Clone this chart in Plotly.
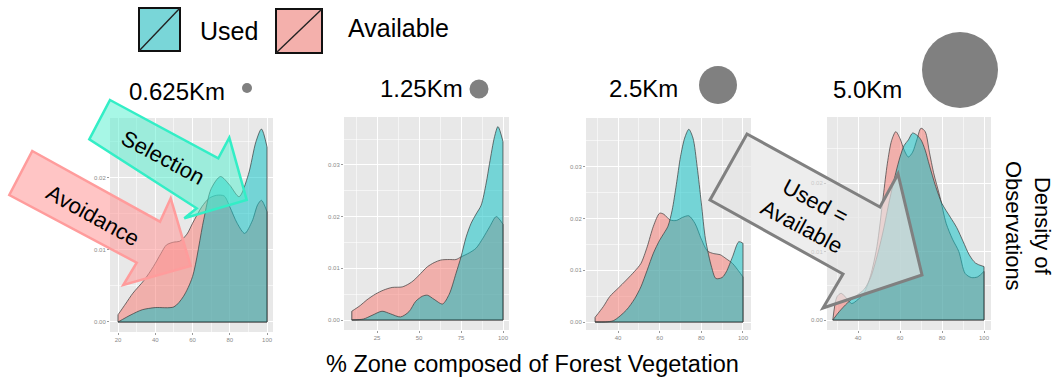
import plotly.graph_objects as go

W, H = 1056, 380

# ---------------- data ----------------
scale_labels = ["0.625Km", "1.25Km", "2.5Km", "5.0Km"]

x_used_0625 = [20, 27, 33, 40, 50, 55, 60, 66, 70, 75, 80, 85, 90, 94, 97, 100]
y_used_0625 = [0.0000, 0.0010, 0.0017, 0.0020, 0.0021, 0.0035, 0.0063, 0.0142, 0.0185,
               0.0202, 0.0190, 0.0174, 0.0205, 0.0250, 0.0268, 0.0243]
x_avail_0625 = [20, 24, 28, 34, 39, 43, 46, 50, 53, 57, 60, 65, 69, 73, 77, 80, 84, 88, 92, 95, 97, 100]
y_avail_0625 = [0.0010, 0.0025, 0.0040, 0.0058, 0.0077, 0.0095, 0.0107, 0.0111, 0.0112, 0.0122,
                0.0137, 0.0160, 0.0172, 0.0176, 0.0175, 0.0160, 0.0137, 0.0123, 0.0140, 0.0163,
                0.0169, 0.0153]

x_used_125 = [10, 17, 22, 28, 33, 39, 44, 48, 52, 55, 59, 64, 68, 72, 75, 78, 81, 84, 87,
              90, 92, 95, 97, 100]
y_used_125 = [0.0000, 0.0002, 0.0009, 0.0017, 0.0012, 0.0006, 0.0016, 0.0036, 0.0046, 0.0048,
              0.0040, 0.0031, 0.0050, 0.0090, 0.0122, 0.0160, 0.0187, 0.0205, 0.0222, 0.0265,
              0.0303, 0.0355, 0.0374, 0.0345]
x_avail_125 = [10, 15, 19, 24, 29, 34, 40, 44, 47, 51, 55, 59, 63, 68, 72, 75, 80, 84, 88, 92, 96, 100]
y_avail_125 = [0.0017, 0.0028, 0.0039, 0.0050, 0.0058, 0.0063, 0.0064, 0.0070, 0.0077, 0.0090,
               0.0103, 0.0111, 0.0116, 0.0117, 0.0117, 0.0122, 0.0130, 0.0139, 0.0158, 0.0180,
               0.0200, 0.0185]

x_used_25 = [29, 34, 38, 44, 48, 51, 54, 57, 60, 62, 64, 66, 68, 70, 72, 74, 76, 78, 80, 82,
             85, 87, 90, 92, 95, 98, 100]
y_used_25 = [0.0000, 0.0000, 0.0003, 0.0023, 0.0045, 0.0068, 0.0100, 0.0133, 0.0158, 0.0171,
             0.0185, 0.0216, 0.0265, 0.0319, 0.0355, 0.0372, 0.0355, 0.0300, 0.0230, 0.0160,
             0.0105, 0.0084, 0.0086, 0.0097, 0.0126, 0.0155, 0.0152]
x_avail_25 = [29, 33, 36, 40, 44, 48, 51, 54, 57, 60, 62, 65, 68, 71, 74, 77, 80, 83, 86, 89,
              92, 95, 98, 100]
y_avail_25 = [0.0009, 0.0030, 0.0049, 0.0065, 0.0081, 0.0098, 0.0113, 0.0145, 0.0185, 0.0210,
              0.0208, 0.0197, 0.0196, 0.0202, 0.0205, 0.0190, 0.0160, 0.0137, 0.0132, 0.0130,
              0.0122, 0.0113, 0.0098, 0.0087]

x_used_50 = [28, 31, 35, 39, 43, 46, 49, 52, 55, 58, 60, 62, 64, 66, 68, 70, 72, 74, 77, 80,
             84, 87, 90, 93, 96, 100]
y_used_50 = [0.0000, 0.0012, 0.0025, 0.0035, 0.0045, 0.0062, 0.0092, 0.0130, 0.0175, 0.0215,
             0.0238, 0.0255, 0.0263, 0.0273, 0.0270, 0.0263, 0.0248, 0.0226, 0.0195, 0.0170,
             0.0150, 0.0135, 0.0115, 0.0095, 0.0083, 0.0078]
x_avail_50 = [28, 30, 32, 35, 37, 40, 43, 46, 49, 52, 54, 56, 58, 60, 62, 64, 66, 68, 70, 72,
              74, 76, 79, 82, 85, 88, 91, 94, 97, 100]
y_avail_50 = [0.0000, 0.0034, 0.0039, 0.0030, 0.0024, 0.0030, 0.0040, 0.0065, 0.0107, 0.0180,
              0.0229, 0.0262, 0.0275, 0.0265, 0.0248, 0.0238, 0.0245, 0.0263, 0.0280, 0.0275,
              0.0245, 0.0215, 0.0180, 0.0141, 0.0118, 0.0100, 0.0068, 0.0062, 0.0063, 0.0071]

x_tickvals = [[20, 40, 60, 80, 100], [25, 50, 75, 100], [40, 60, 80, 100], [40, 60, 80, 100]]
y_tickvals = [[0.0, 0.01, 0.02], [0.0, 0.01, 0.02, 0.03], [0.0, 0.01, 0.02, 0.03], [0.0, 0.01, 0.02]]
y_ticktext = [["0.00", "0.01", "0.02"], ["0.00", "0.01", "0.02", "0.03"],
              ["0.00", "0.01", "0.02", "0.03"], ["0.00", "0.01", "0.02"]]

series = [
    (x_used_0625, y_used_0625, x_avail_0625, y_avail_0625),
    (x_used_125, y_used_125, x_avail_125, y_avail_125),
    (x_used_25, y_used_25, x_avail_25, y_avail_25),
    (x_used_50, y_used_50, x_avail_50, y_avail_50),
]

# ---------------- layout geometry (pixels) ----------------
panel_px = [(110, 273, 118, 332), (344, 509, 117, 330), (586, 751, 118, 330), (827, 991, 117, 330)]
x_ranges = [[15.7, 103.2], [5.36, 103.57], [24.64, 103.85], [25.24, 103.33]]
y_ranges = [[-0.00139, 0.02833], [-0.00193, 0.03926], [-0.00154, 0.03938], [-0.00146, 0.02964]]
x_minor = [10, 12.5, 10, 10]

PINK = "rgba(248,118,109,0.5)"
TEAL = "rgba(0,191,196,0.5)"
EDGE = "#3a3a3a"
FONT = "Liberation Sans, Arial, sans-serif"


def fx(px):
    return px / W


def fy(py):
    return 1 - py / H


fig = go.Figure()
layout = {}
for i, (xu, yu, xa_, ya_) in enumerate(series):
    n = "" if i == 0 else str(i + 1)
    xr, yr = "x" + n, "y" + n
    for xs, ys, col in ((xa_, ya_, PINK), (xu, yu, TEAL)):
        fig.add_trace(go.Scatter(x=xs, y=ys, xaxis=xr, yaxis=yr, mode="lines",
                                 fill="tozeroy", fillcolor=col,
                                 line=dict(color=EDGE, width=0.7, shape="spline", smoothing=0.8),
                                 hoverinfo="skip", showlegend=False))
        fig.add_trace(go.Scatter(x=[xs[-1], xs[-1], xs[0], xs[0]], y=[ys[-1], 0, 0, ys[0]],
                                 xaxis=xr, yaxis=yr, mode="lines",
                                 line=dict(color=EDGE, width=0.8),
                                 hoverinfo="skip", showlegend=False))
    x0, x1, y0, y1 = panel_px[i]
    layout["xaxis" + n] = dict(
        domain=[fx(x0), fx(x1)], range=x_ranges[i], anchor=yr,
        tickvals=x_tickvals[i], ticks="outside", ticklen=2, tickcolor="#9a9a9a",
        tickfont=dict(size=6, color="#8a8a8a", family=FONT),
        showgrid=True, gridcolor="white", gridwidth=1, zeroline=False, showline=False,
        minor=dict(tick0=0, dtick=x_minor[i], showgrid=True, gridcolor="rgba(255,255,255,0.55)",
                   gridwidth=0.5, ticks=""),
        fixedrange=True)
    layout["yaxis" + n] = dict(
        domain=[fy(y1), fy(y0)], range=y_ranges[i], anchor=xr,
        tickvals=y_tickvals[i], ticktext=y_ticktext[i], ticks="outside", ticklen=2,
        tickcolor="#9a9a9a", tickfont=dict(size=6, color="#8a8a8a", family=FONT),
        showgrid=True, gridcolor="white", gridwidth=1, zeroline=False, showline=False,
        minor=dict(tick0=0, dtick=0.005, showgrid=True, gridcolor="rgba(255,255,255,0.55)",
                   gridwidth=0.5, ticks=""),
        fixedrange=True)


def path(pts):
    s = "M " + " L ".join(f"{fx(a):.5f},{fy(b):.5f}" for a, b in pts) + " Z"
    return s


def note(px, py, text, size, angle=0, xanchor="center"):
    return dict(x=fx(px), y=fy(py), xref="paper", yref="paper", text=text,
                showarrow=False, textangle=angle, xanchor=xanchor, yanchor="middle",
                font=dict(size=size, color="black", family=FONT))


shapes = []
annotations = []

# arrows
sel_pts = [(110, 100), (218.3, 158.3), (229.3, 137.7), (246.7, 200), (184.3, 218.3),
           (196.7, 208.3), (89.3, 139.3)]
avo_pts = [(32.3, 151), (160, 221.7), (170.7, 198.3), (190.7, 266), (123.3, 285),
           (136.7, 262.7), (9.3, 195)]
eq_pts = [(747, 134), (880, 207), (898, 174), (922, 275), (823, 308), (843, 274), (710, 200)]

shapes.append(dict(type="path", xref="paper", yref="paper", path=path(avo_pts),
                   fillcolor="rgba(255,150,150,0.55)", line=dict(color="#FF9C9C", width=2.5),
                   layer="above"))
shapes.append(dict(type="path", xref="paper", yref="paper", path=path(sel_pts),
                   fillcolor="rgba(80,240,205,0.5)", line=dict(color="#33EEC6", width=2.5),
                   layer="above"))
shapes.append(dict(type="path", xref="paper", yref="paper", path=path(eq_pts),
                   fillcolor="rgba(228,228,228,0.68)", line=dict(color="#808080", width=3),
                   layer="above"))

annotations.append(note(163, 157, "Selection", 22, 28))
annotations.append(note(93, 215, "Avoidance", 22, 29))
annotations.append(note(808, 214, "Used =<br>Available", 22, 28))

# scale titles and circles
title_pos = [(177, 92), (421, 89), (643, 89), (867, 90)]
circles = [(247, 88, 5), (479, 89, 9.5), (718, 85, 19), (960, 70, 38)]
for lab, (tx, ty) in zip(scale_labels, title_pos):
    annotations.append(note(tx, ty, lab, 24))
for cx, cy, r in circles:
    shapes.append(dict(type="circle", xref="paper", yref="paper",
                       x0=fx(cx - r), x1=fx(cx + r), y0=fy(cy + r), y1=fy(cy - r),
                       fillcolor="#808080", line=dict(width=0)))

# legend
legend_items = [("Used", "#79D6D8", (139, 8, 180, 51), 198, 31),
                ("Available", "#F4B0AC", (276, 9, 322, 53), 346, 28)]
for lab, col, (a, b, c, d), tx, ty in legend_items:
    shapes.append(dict(type="rect", xref="paper", yref="paper", x0=fx(a), x1=fx(c),
                       y0=fy(d), y1=fy(b), fillcolor=col, line=dict(color="#111", width=2)))
    shapes.append(dict(type="line", xref="paper", yref="paper", x0=fx(a), y0=fy(d),
                       x1=fx(c), y1=fy(b), line=dict(color="#222", width=1.4)))
    annotations.append(note(tx, ty, lab, 25, 0, "left"))

# axis titles
annotations.append(note(532, 364, "% Zone composed of Forest Vegetation", 23.5))
annotations.append(note(1028, 226, "Density of<br>Observations", 22, 90))

fig.update_layout(width=W, height=H, autosize=False,
                  margin=dict(l=0, r=0, t=0, b=0),
                  paper_bgcolor="white", plot_bgcolor="#E8E8E8",
                  shapes=shapes, annotations=annotations, **layout)

fig.write_html("out.html", config={"displayModeBar": False},
               post_script="document.body.style.margin='0';document.body.style.padding='0';")
